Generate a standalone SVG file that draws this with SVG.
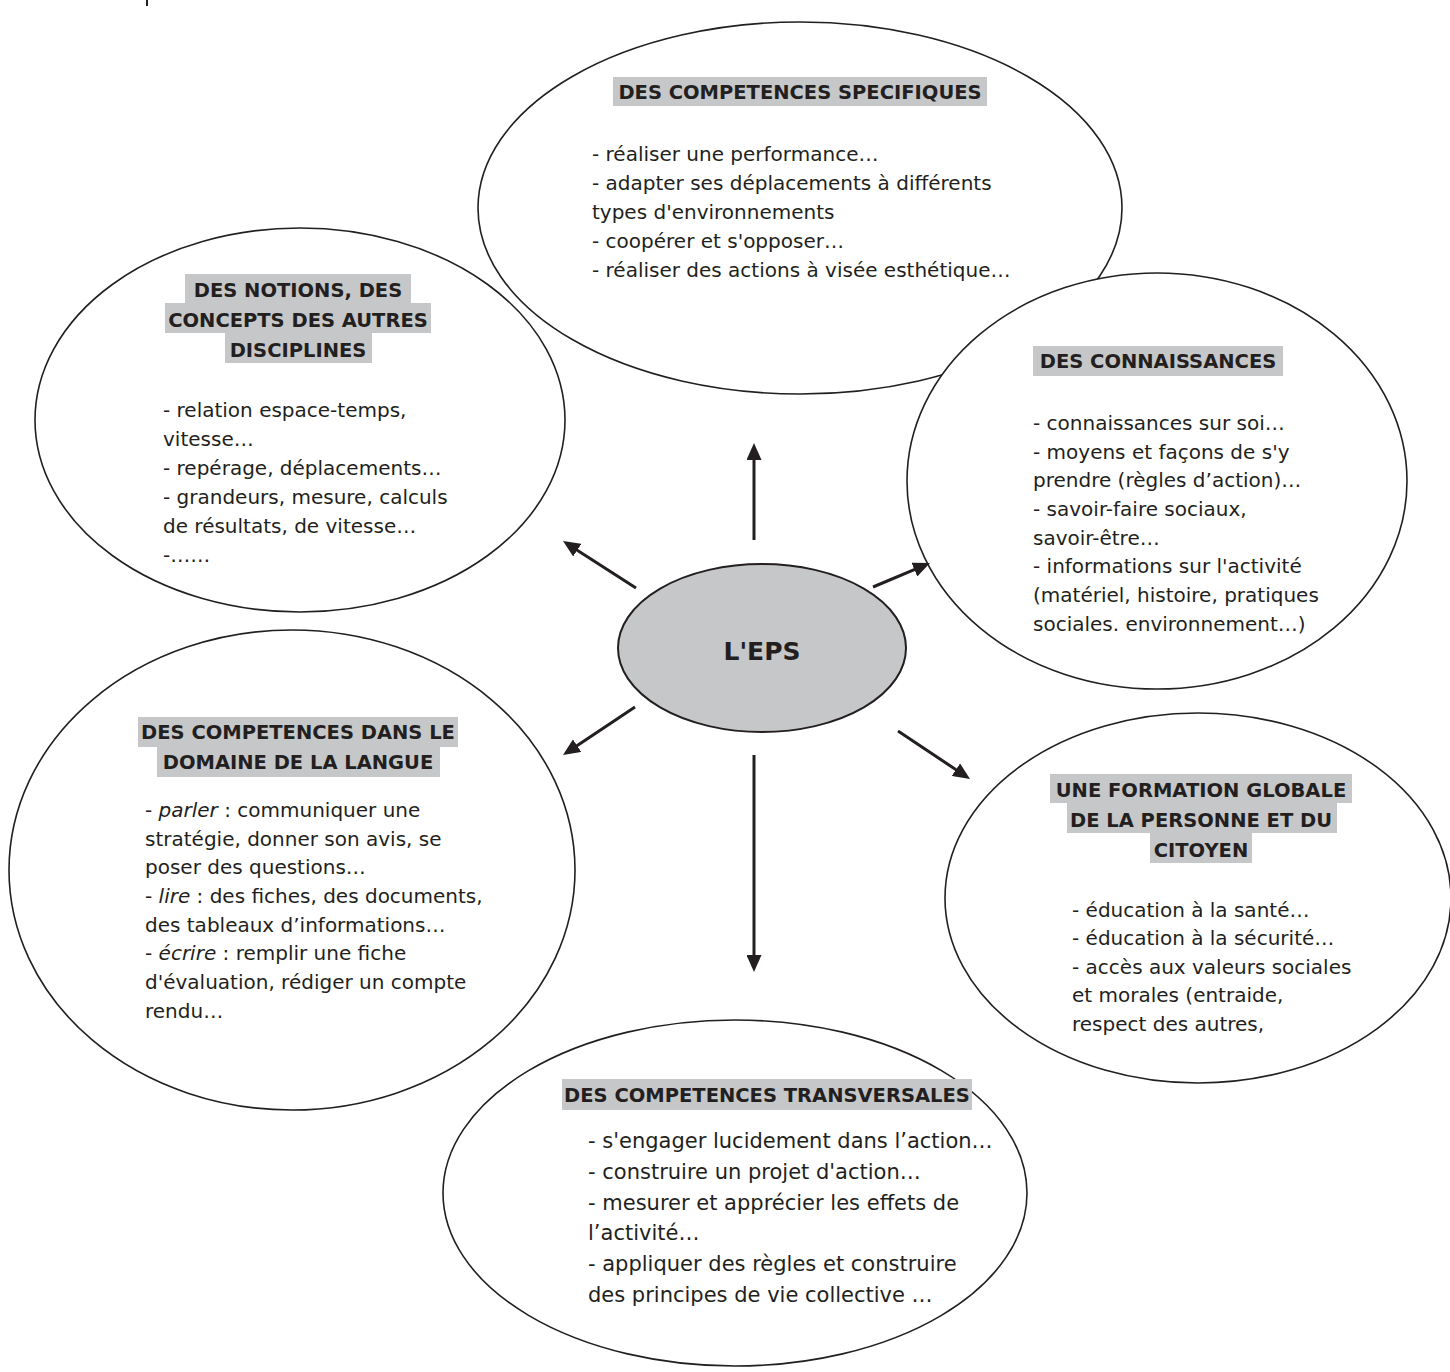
<svg xmlns="http://www.w3.org/2000/svg" width="1450" height="1372" viewBox="0 0 1450 1372">
  <style>
    .ell { fill: #ffffff; stroke: #231f20; stroke-width: 1.6; }
    .core { fill: #c6c7c9; stroke: #231f20; stroke-width: 2; }
    .hl { fill: #c6c7c9; }
    text { font-family: "DejaVu Sans", "Liberation Sans", sans-serif; fill: #231f20; }
    .h { font-size: 19.5px; font-weight: bold; text-anchor: middle; }
    .b { font-size: 20px; }
    .bl { font-size: 21px; }
    .core-label { font-size: 25px; font-weight: bold; text-anchor: middle; }
    .arrow { stroke: #231f20; stroke-width: 3; fill: none; marker-end: url(#head); }
  </style>
  <defs>
    <marker id="head" markerUnits="userSpaceOnUse" markerWidth="17" markerHeight="15" refX="7" refY="7.5" orient="auto">
      <path d="M0,0 L17,7.5 L0,15 z" fill="#231f20"/>
    </marker>
  </defs>

  <rect width="1450" height="1372" fill="#ffffff"/>
  <line x1="147" y1="0" x2="147" y2="6" stroke="#231f20" stroke-width="2"/>

  <!-- other subjects -->
  <g id="node-notions">
    <ellipse class="ell" cx="300" cy="420" rx="265" ry="192"/>
    <rect class="hl" x="185" y="274" width="226" height="29"/>
    <rect class="hl" x="165" y="303" width="266" height="30"/>
    <rect class="hl" x="225" y="333" width="147" height="30"/>
    <text class="h" x="298" y="297">DES NOTIONS, DES</text>
    <text class="h" x="298" y="327">CONCEPTS DES AUTRES</text>
    <text class="h" x="298" y="357">DISCIPLINES</text>
    <text class="b" x="163" y="417">- relation espace-temps,</text>
    <text class="b" x="163" y="446">vitesse…</text>
    <text class="b" x="163" y="475">- repérage, déplacements…</text>
    <text class="b" x="163" y="504">- grandeurs, mesure, calculs</text>
    <text class="b" x="163" y="533">de résultats, de vitesse…</text>
    <text class="b" x="163" y="562">-……</text>
  </g>

  <!-- specific skills -->
  <g id="node-specifiques">
    <ellipse class="ell" cx="800" cy="208" rx="322" ry="186"/>
    <rect class="hl" x="613" y="77" width="374" height="29"/>
    <text class="h" x="800" y="99">DES COMPETENCES SPECIFIQUES</text>
    <text class="b" x="592" y="161">- réaliser une performance…</text>
    <text class="b" x="592" y="190">- adapter ses déplacements à différents</text>
    <text class="b" x="592" y="219">types d'environnements</text>
    <text class="b" x="592" y="248">- coopérer et s'opposer…</text>
    <text class="b" x="592" y="277">- réaliser des actions à visée esthétique…</text>
  </g>

  <!-- knowledge -->
  <g id="node-connaissances">
    <ellipse class="ell" cx="1157" cy="481" rx="250" ry="208"/>
    <rect class="hl" x="1033" y="346" width="250" height="30"/>
    <text class="h" x="1158" y="368">DES CONNAISSANCES</text>
    <text class="b" x="1033" y="430">- connaissances sur soi…</text>
    <text class="b" x="1033" y="459">- moyens et façons de s'y</text>
    <text class="b" x="1033" y="487">prendre (règles d’action)…</text>
    <text class="b" x="1033" y="516">- savoir-faire sociaux,</text>
    <text class="b" x="1033" y="545">savoir-être…</text>
    <text class="b" x="1033" y="573">- informations sur l'activité</text>
    <text class="b" x="1033" y="602">(matériel, histoire, pratiques</text>
    <text class="b" x="1033" y="631">sociales. environnement…)</text>
  </g>

  <!-- language skills -->
  <g id="node-langue">
    <ellipse class="ell" cx="292" cy="870" rx="283" ry="240"/>
    <rect class="hl" x="138" y="717" width="320" height="30"/>
    <rect class="hl" x="157" y="747" width="283" height="30"/>
    <text class="h" x="298" y="739">DES COMPETENCES DANS LE</text>
    <text class="h" x="298" y="769">DOMAINE DE LA LANGUE</text>
    <text class="b" x="145" y="817">- <tspan font-style="italic">parler</tspan> : communiquer une</text>
    <text class="b" x="145" y="846">stratégie, donner son avis, se</text>
    <text class="b" x="145" y="874">poser des questions…</text>
    <text class="b" x="145" y="903">- <tspan font-style="italic">lire</tspan> : des fiches, des documents,</text>
    <text class="b" x="145" y="932">des tableaux d’informations…</text>
    <text class="b" x="145" y="960">- <tspan font-style="italic">écrire</tspan> : remplir une fiche</text>
    <text class="b" x="145" y="989">d'évaluation, rédiger un compte</text>
    <text class="b" x="145" y="1018">rendu…</text>
  </g>

  <!-- personal and civic education -->
  <g id="node-formation">
    <ellipse class="ell" cx="1198" cy="898" rx="253" ry="185"/>
    <rect class="hl" x="1050" y="774" width="302" height="29"/>
    <rect class="hl" x="1067" y="803" width="270" height="30"/>
    <rect class="hl" x="1150" y="833" width="102" height="30"/>
    <text class="h" x="1201" y="797">UNE FORMATION GLOBALE</text>
    <text class="h" x="1201" y="827">DE LA PERSONNE ET DU</text>
    <text class="h" x="1201" y="857">CITOYEN</text>
    <text class="b" x="1072" y="917">- éducation à la santé…</text>
    <text class="b" x="1072" y="945">- éducation à la sécurité…</text>
    <text class="b" x="1072" y="974">- accès aux valeurs sociales</text>
    <text class="b" x="1072" y="1002">et morales (entraide,</text>
    <text class="b" x="1072" y="1031">respect des autres,</text>
  </g>

  <!-- cross-curricular skills -->
  <g id="node-transversales">
    <ellipse class="ell" cx="735" cy="1193" rx="292" ry="173"/>
    <rect class="hl" x="562" y="1079" width="410" height="31"/>
    <text class="h" x="767" y="1102">DES COMPETENCES TRANSVERSALES</text>
    <text class="bl" x="588" y="1148">- s'engager lucidement dans l’action…</text>
    <text class="bl" x="588" y="1179">- construire un projet d'action…</text>
    <text class="bl" x="588" y="1210">- mesurer et apprécier les effets de</text>
    <text class="bl" x="588" y="1240">l’activité…</text>
    <text class="bl" x="588" y="1271">- appliquer des règles et construire</text>
    <text class="bl" x="588" y="1302">des principes de vie collective …</text>
  </g>

  <!-- centre -->
  <g id="node-eps">
    <ellipse class="core" cx="762" cy="648" rx="144" ry="84"/>
    <text class="core-label" x="762" y="660">L'EPS</text>
  </g>

  <g id="connectors">
    <line class="arrow" x1="754" y1="540" x2="754" y2="453"/>
    <line class="arrow" x1="636" y1="588" x2="571.4" y2="546.4"/>
    <line class="arrow" x1="873" y1="587" x2="920.8" y2="566.9"/>
    <line class="arrow" x1="635" y1="707" x2="571.3" y2="749.5"/>
    <line class="arrow" x1="898" y1="731" x2="961.7" y2="773.5"/>
    <line class="arrow" x1="754" y1="755" x2="754" y2="962"/>
  </g>
</svg>
